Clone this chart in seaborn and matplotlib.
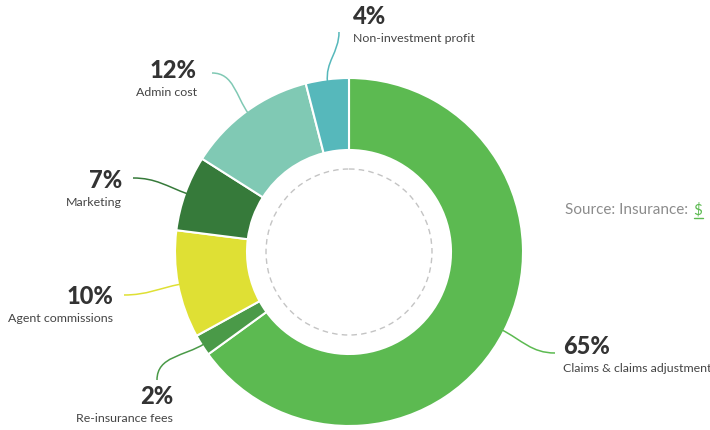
import matplotlib
matplotlib.use("Agg")
import numpy as np
import matplotlib.pyplot as plt
import seaborn as sns
from matplotlib.path import Path
from matplotlib.patches import PathPatch, Circle
from matplotlib.lines import Line2D
from matplotlib.transforms import IdentityTransform

# data
categories = ["Claims & claims adjustment", "Re-insurance fees", "Agent commissions",
              "Marketing", "Admin cost", "Non-investment profit"]
shares = [65, 2, 10, 7, 12, 4]
colors = ["#5cba51", "#4a9a48", "#dfe034", "#367a3a", "#80c9b4", "#56b8bb"]
source_text = "Source: Insurance:"

# layout (pixel coords, y goes down)
center = (349, 252)
r_out, r_in = 174, 102
label_xy = [(563, 347), (173, 397), (113, 297), (122, 180), (197, 70), (353, 17)]
label_ha = ["left", "right", "right", "right", "right", "left"]
line_end = [(555, 353), (157, 380), (124, 295), (133, 178), (212, 73), (339, 32)]
approach = [(-1, 0), (0, -1), (1, 0), (1, 0), (1, 0), (0, 1)]

sns.set_theme(style="white")
plt.rcParams["font.family"] = ["Lato", "DejaVu Sans"]

fig = plt.figure(figsize=(7.1, 4.3), dpi=100)
ax = fig.add_axes([0, 0, 1, 1])
ax.pie(shares, colors=colors, startangle=-90, counterclock=True,
       radius=r_out, center=center,
       wedgeprops=dict(width=r_out - r_in, edgecolor="white", linewidth=1.5))
ax.set_xlim(0, 710)
ax.set_ylim(430, 0)
ax.set_aspect("equal")
ax.axis("off")

# dashed inner circle
ax.add_patch(Circle(center, 83, fill=False, ls=(0, (4, 3)), ec="#c4c4c4", lw=1))

# labels + curved connectors
cum = np.cumsum(shares)
for i, (cat, s) in enumerate(zip(categories, shares)):
    theta = np.deg2rad(-90 + 360 * (cum[i] - s / 2) / sum(shares))
    d = np.array([np.cos(theta), np.sin(theta)])
    p0 = np.array(center) + d * (r_out - 3)
    p3 = np.array(line_end[i], dtype=float)
    dist = np.linalg.norm(p3 - p0)
    p1 = p0 + d * dist * 0.4
    p2 = p3 + np.array(approach[i]) * dist * 0.4
    path = Path([p0, p1, p2, p3], [Path.MOVETO, Path.CURVE4, Path.CURVE4, Path.CURVE4])
    ax.add_patch(PathPatch(path, fc="none", ec=colors[i], lw=1.1))

    x, y = label_xy[i]
    ax.text(x, y, f"{s}%", ha=label_ha[i], va="center", fontsize=17,
            fontweight="black", color="#333333")
    ax.text(x, y + 22, cat, ha=label_ha[i], va="center", fontsize=8.9,
            color="#444444")

# source note
src = ax.text(565, 210, source_text, ha="left", va="center", fontsize=11,
              color="#8c8c8c")
dollar = ax.annotate("$", xy=(1, 0.5), xycoords=src, xytext=(4, 0),
                     textcoords="offset points", ha="left", va="center",
                     fontsize=11, color="#5cba51")
fig.canvas.draw()
bb = dollar.get_window_extent()
fig.add_artist(Line2D([bb.x0, bb.x1], [bb.y0 - 1, bb.y0 - 1], color="#5cba51",
                      lw=1, transform=IdentityTransform()))

fig.savefig("out.png", dpi=100)
